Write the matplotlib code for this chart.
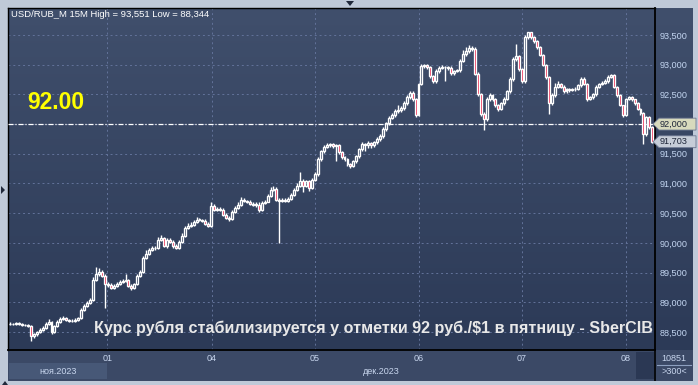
import numpy as np
import matplotlib
matplotlib.use("Agg")
import matplotlib.pyplot as plt
from matplotlib.patches import Rectangle, Polygon
from matplotlib.collections import LineCollection
from matplotlib.colors import LinearSegmentedColormap
import matplotlib.transforms as mtransforms

# ---------------- data (USD/RUB_M, 15-minute bars) ----------------
closes = [
    88.635, 88.635, 88.652, 88.635, 88.618, 88.618, 88.601, 88.432, 88.466, 88.500,
    88.534, 88.568, 88.635, 88.669, 88.500, 88.601, 88.669, 88.720, 88.736, 88.703,
    88.686, 88.686, 88.703, 88.736, 88.872, 88.939, 88.990, 89.040, 89.378, 89.480,
    89.513, 89.446, 89.311, 89.294, 89.243, 89.277, 89.311, 89.345, 89.361, 89.378,
    89.277, 89.243, 89.311, 89.446, 89.513, 89.750, 89.817, 89.885, 89.919, 89.919,
    90.054, 90.088, 89.953, 90.054, 90.020, 89.953, 89.919, 90.020, 90.121, 90.257,
    90.290, 90.307, 90.358, 90.392, 90.392, 90.375, 90.324, 90.290, 90.628, 90.561,
    90.577, 90.561, 90.476, 90.425, 90.409, 90.527, 90.594, 90.645, 90.729, 90.713,
    90.696, 90.662, 90.645, 90.645, 90.561, 90.679, 90.696, 90.797, 90.898, 90.915,
    90.729, 90.713, 90.729, 90.713, 90.746, 90.814, 90.898, 90.966, 91.050, 90.966,
    91.034, 90.932, 91.067, 91.152, 91.405, 91.540, 91.608, 91.642, 91.658, 91.625,
    91.642, 91.523, 91.439, 91.405, 91.321, 91.287, 91.371, 91.456, 91.574, 91.658,
    91.642, 91.675, 91.642, 91.692, 91.743, 91.794, 91.912, 92.013, 92.098, 92.148,
    92.216, 92.233, 92.266, 92.351, 92.452, 92.520, 92.418, 92.148, 92.672, 92.976,
    92.993, 92.959, 92.807, 92.723, 92.891, 92.942, 92.959, 92.959, 92.942, 92.858,
    92.891, 92.908, 93.060, 93.179, 93.229, 93.280, 93.263, 92.841, 92.503, 92.165,
    92.081, 92.418, 92.486, 92.418, 92.317, 92.250, 92.351, 92.418, 92.554, 92.756,
    93.094, 93.145, 92.925, 92.723, 93.466, 93.550, 93.466, 93.398, 93.297, 93.162,
    92.993, 92.790, 92.351, 92.486, 92.621, 92.672, 92.621, 92.554, 92.587, 92.570,
    92.587, 92.587, 92.655, 92.756, 92.672, 92.418, 92.452, 92.503, 92.621, 92.672,
    92.689, 92.723, 92.790, 92.824, 92.621, 92.486, 92.317, 92.148, 92.418, 92.452,
    92.418, 92.351, 92.250, 92.182, 91.827, 92.114, 91.946, 91.703,
]
highs = [
    88.660, 88.655, 88.675, 88.665, 88.650, 88.640, 88.630, 88.620, 88.490, 88.520,
    88.560, 88.600, 88.660, 88.720, 88.690, 88.620, 88.700, 88.760, 88.770, 88.750,
    88.720, 88.710, 88.730, 88.760, 88.900, 88.970, 89.020, 89.080, 89.420, 89.598,
    89.570, 89.540, 89.470, 89.340, 89.320, 89.300, 89.340, 89.370, 89.400, 89.480,
    89.400, 89.300, 89.330, 89.470, 89.540, 89.780, 89.880, 89.920, 89.950, 89.950,
    90.100, 90.130, 90.100, 90.080, 90.080, 90.040, 89.980, 90.050, 90.160, 90.290,
    90.340, 90.350, 90.390, 90.430, 90.420, 90.410, 90.400, 90.350, 90.696, 90.650,
    90.610, 90.600, 90.580, 90.500, 90.450, 90.550, 90.620, 90.680, 90.780, 90.760,
    90.730, 90.720, 90.690, 90.680, 90.680, 90.710, 90.730, 90.830, 90.949, 90.950,
    90.940, 90.760, 90.760, 90.750, 90.780, 90.840, 90.930, 91.000, 91.185, 91.080,
    91.060, 91.060, 91.090, 91.190, 91.440, 91.570, 91.650, 91.680, 91.690, 91.690,
    91.670, 91.660, 91.550, 91.470, 91.430, 91.340, 91.400, 91.480, 91.600, 91.700,
    91.690, 91.710, 91.700, 91.720, 91.780, 91.830, 91.950, 92.040, 92.130, 92.180,
    92.250, 92.320, 92.300, 92.390, 92.490, 92.560, 92.550, 92.440, 92.700, 93.010,
    93.020, 93.010, 92.980, 92.830, 92.920, 92.980, 92.990, 92.985, 92.980, 92.970,
    92.910, 92.930, 93.090, 93.250, 93.300, 93.331, 93.320, 93.290, 92.870, 92.530,
    92.200, 92.460, 92.530, 92.510, 92.440, 92.340, 92.380, 92.450, 92.580, 92.790,
    93.130, 93.350, 93.170, 92.950, 93.500, 93.551, 93.540, 93.490, 93.420, 93.320,
    93.180, 93.010, 92.810, 92.520, 92.700, 92.720, 92.700, 92.650, 92.610, 92.610,
    92.610, 92.620, 92.680, 92.790, 92.790, 92.690, 92.480, 92.530, 92.650, 92.700,
    92.720, 92.760, 92.830, 92.850, 92.840, 92.640, 92.500, 92.330, 92.440, 92.470,
    92.470, 92.430, 92.370, 92.270, 92.200, 92.140, 92.130, 91.970,
]
lows = [
    88.610, 88.615, 88.620, 88.615, 88.600, 88.595, 88.580, 88.344, 88.400, 88.440,
    88.480, 88.510, 88.550, 88.620, 88.470, 88.480, 88.590, 88.650, 88.700, 88.680,
    88.670, 88.665, 88.670, 88.690, 88.720, 88.850, 88.920, 88.970, 89.020, 89.350,
    89.450, 89.420, 88.905, 89.260, 89.220, 89.220, 89.250, 89.290, 89.320, 89.340,
    89.250, 89.210, 89.220, 89.290, 89.420, 89.490, 89.720, 89.790, 89.860, 89.880,
    89.900, 90.030, 89.930, 89.920, 89.990, 89.920, 89.890, 89.900, 90.000, 90.100,
    90.230, 90.270, 90.280, 90.330, 90.360, 90.350, 90.300, 90.260, 90.270, 90.540,
    90.540, 90.530, 90.450, 90.400, 90.370, 90.390, 90.500, 90.570, 90.620, 90.690,
    90.670, 90.640, 90.620, 90.600, 90.520, 90.540, 90.660, 90.680, 90.780, 90.870,
    90.700, 90.003, 90.690, 90.690, 90.690, 90.720, 90.790, 90.870, 90.940, 90.850,
    90.940, 90.880, 90.900, 91.040, 91.130, 91.380, 91.510, 91.590, 91.610, 91.600,
    91.380, 91.500, 91.410, 91.380, 91.300, 91.260, 91.270, 91.350, 91.430, 91.550,
    91.550, 91.600, 91.600, 91.620, 91.670, 91.720, 91.770, 91.890, 91.990, 92.080,
    92.120, 92.190, 92.200, 92.240, 92.330, 92.430, 92.390, 92.114, 92.130, 92.650,
    92.940, 92.920, 92.780, 92.690, 92.700, 92.860, 92.920, 92.720, 92.910, 92.830,
    92.830, 92.870, 92.880, 93.040, 93.150, 93.200, 93.230, 92.820, 92.470, 92.130,
    91.895, 92.050, 92.390, 92.390, 92.290, 92.220, 92.230, 92.330, 92.400, 92.530,
    92.730, 93.060, 92.900, 92.690, 92.700, 93.440, 93.430, 93.370, 93.270, 93.140,
    92.970, 92.760, 92.165, 92.330, 92.460, 92.600, 92.600, 92.530, 92.530, 92.540,
    92.550, 92.560, 92.570, 92.630, 92.650, 92.390, 92.400, 92.430, 92.480, 92.600,
    92.650, 92.670, 92.700, 92.770, 92.600, 92.460, 92.300, 92.114, 92.130, 92.400,
    92.390, 92.330, 92.230, 92.160, 91.658, 91.800, 91.920, 91.680,
]
first_open = 88.635
opens = [first_open] + closes[:-1]

price_ticks = [88.5, 89.0, 89.5, 90.0, 90.5, 91.0, 91.5, 92.0, 92.5, 93.0, 93.5]
day_labels = ["01", "04", "05", "06", "07", "08"]
day_starts = [32.8, 68.2, 103.0, 138.2, 173.0, 208.1]   # bar index where each day begins
month_labels = ["ноя.2023", "дек.2023"]
header = "USD/RUB_M 15M High = 93,551 Low = 88,344"
level_price = 92.0
level_text = "92.00"
last_price = 91.703
caption = "Курс рубля стабилизируется у отметки 92 руб./$1 в пятницу - SberCIB"
counter_top = "10851"
counter_bottom = ">300<"

# ---------------- layout helpers ----------------
W, H = 698, 385
plt.rcParams["font.family"] = ["Liberation Sans", "DejaVu Sans"]
fig = plt.figure(figsize=(W / 100, H / 100), dpi=100)
fig.patch.set_facecolor("#bfc9d8")


def px_axes(x0, y0, x1, y1, **kw):
    return fig.add_axes([x0 / W, 1 - y1 / H, (x1 - x0) / W, (y1 - y0) / H], **kw)


# gradient background behind plot + price scale
bg = px_axes(8, 8, 693, 350)
bg.set_axis_off()
grad = np.linspace(0, 1, 256).reshape(-1, 1)
cm = LinearSegmentedColormap.from_list("bgc", ["#404f6c", "#2c3a57"])
bg.imshow(grad, aspect="auto", cmap=cm, extent=[0, 1, 0, 1], origin="upper")

# bottom time-scale panel
bot = px_axes(8, 350, 693, 381)
bot.set_xlim(8, 693)
bot.set_ylim(381, 350)
bot.set_facecolor("#3b4966")
for s in bot.spines.values():
    s.set_visible(False)
bot.set_xticks([]); bot.set_yticks([])
bot.add_patch(Rectangle((9, 363), 98, 16, facecolor="#475877", edgecolor="none"))
bot.add_patch(Rectangle((636, 351.5), 18, 27, facecolor="#2b3854", edgecolor="none"))
bot.plot([655, 655], [350, 381], color="black", lw=1.2)
bot.plot([657, 691], [364.5, 364.5], color="#8da0c0", lw=0.8)
bot.text(58, 371, month_labels[0], color="#c8d6ee", fontsize=6.5, ha="center", va="center")
bot.text(381, 371, month_labels[1], color="#c8d6ee", fontsize=6.5, ha="center", va="center")
bot.text(674, 358, counter_top, color="#c8d6ee", fontsize=6.5, ha="center", va="center")
bot.text(674, 371.5, counter_bottom, color="#c8d6ee", fontsize=6.5, ha="center", va="center")

# main price chart
ax = px_axes(8, 8, 655, 350)
ax.set_facecolor("none")
n = len(closes)
ax.set_xlim(-0.7, 217.9)
ax.set_ylim(88.196, 93.955)

ax.set_yticks(price_ticks)
ax.set_yticklabels([f"{v:.3f}".replace(".", ",") for v in price_ticks])
ax.yaxis.tick_right()
ax.tick_params(axis="y", length=0, pad=3, labelsize=6.6, labelcolor="#c3d5f0")
ax.set_xticks(day_starts)
ax.set_xticklabels(day_labels)
ax.tick_params(axis="x", length=0, pad=3, labelsize=6.5, labelcolor="#c8d6ee")
ax.grid(True, color="#63739a", lw=0.7, linestyle=(0, (2, 3)))
for s in ax.spines.values():
    s.set_color("black")
    s.set_linewidth(1.0)
ax.spines["right"].set_linewidth(1.3)
ax.spines["bottom"].set_linewidth(1.3)

# candles
wicks = []
for i in range(n):
    o, c, h, l = opens[i], closes[i], highs[i], lows[i]
    top, bottom = max(o, c), min(o, c)
    if h > top:
        wicks.append([(i, top), (i, h)])
    if l < bottom:
        wicks.append([(i, l), (i, bottom)])
ax.add_collection(LineCollection(wicks, colors="white", linewidths=1.0, zorder=3))
bw = 0.66
for i in range(n):
    o, c = opens[i], closes[i]
    top, bottom = max(o, c), min(o, c)
    fc = "#e8163f" if c < o else "none"
    ax.add_patch(Rectangle((i - bw / 2, bottom), bw, max(top - bottom, 0.002),
                           facecolor=fc, edgecolor="white", lw=0.95, zorder=4))

# 92.000 level line
ax.axhline(level_price, color="white", lw=0.9, linestyle=(0, (4, 1.5, 1, 1.5)), zorder=2.6)

# header and overlays
ax.text(0.004, 0.982, header, transform=ax.transAxes, color="white", fontsize=6.8,
        ha="left", va="center", zorder=6)
lvl_tr = mtransforms.blended_transform_factory(ax.transAxes, ax.transData)
ax.text(19 / 647, level_price + 0.36, level_text, transform=lvl_tr, color="#ffff00",
        fontsize=16.5, fontweight="bold", ha="left", va="center", zorder=6)
ax.text(365 / 647, 88.57, caption, transform=lvl_tr, color="#e8e8e8",
        fontsize=11.6, fontweight="bold", ha="center", va="center", zorder=6)

# price markers on the scale
ov = px_axes(0, 0, W, H)
ov.set_facecolor("none")
ov.set_axis_off()
ov.set_xlim(0, W)
ov.set_ylim(H, 0)
mk_tr = mtransforms.blended_transform_factory(ov.transData, ax.transData)
hh = 0.1
for price, fcol in [(level_price, "#d7dabd"), (last_price, "#c6cdd8")]:
    poly = Polygon([(653, price), (659, price + hh), (696, price + hh),
                    (696, price - hh), (659, price - hh)], closed=True,
                   facecolor=fcol, edgecolor="#6b7690", lw=0.6, transform=mk_tr, clip_on=False)
    ov.add_patch(poly)
    ov.text(660, price, f"{price:.3f}".replace(".", ","), transform=mk_tr, color="#1d2538",
            fontsize=6.6, ha="left", va="center")

# little scroll arrows on the frame
ov.add_patch(Polygon([(346, 1), (354, 1), (350, 6)], closed=True, facecolor="#20283a", edgecolor="none"))
ov.add_patch(Polygon([(1, 186), (1, 194), (5, 190)], closed=True, facecolor="#20283a", edgecolor="none"))
ov.add_patch(Polygon([(2, 385), (8, 385), (5, 381)], closed=True, facecolor="#20283a", edgecolor="none"))

fig.savefig("out.png", dpi=100, facecolor=fig.get_facecolor())
